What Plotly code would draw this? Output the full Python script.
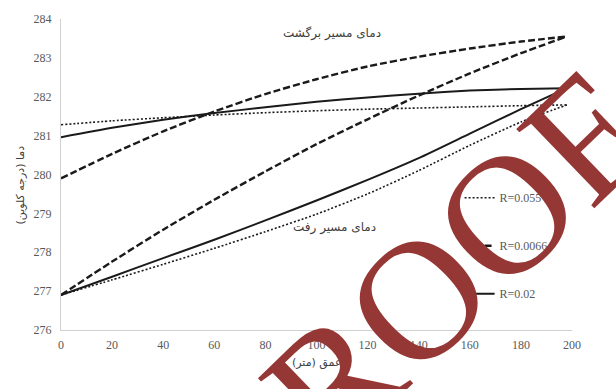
import plotly.graph_objects as go

# depth (m)
depth = [0, 20, 40, 60, 80, 100, 120, 140, 160, 180, 198]

# series names
names = ["R=0.055", "R=0.0066", "R=0.02"]

# temperatures (K) along the descending path (رفت) and the return path (برگشت)
down_r1 = [276.9, 277.29, 277.69, 278.1, 278.53, 278.98, 279.5, 280.1, 280.75, 281.35, 281.79]
ret_r1 = [281.28, 281.38, 281.46, 281.53, 281.59, 281.64, 281.68, 281.71, 281.74, 281.77, 281.79]

down_r2 = [276.9, 277.76, 278.58, 279.35, 280.08, 280.78, 281.42, 282.03, 282.6, 283.12, 283.55]
ret_r2 = [279.9, 280.53, 281.11, 281.62, 282.07, 282.45, 282.78, 283.03, 283.24, 283.42, 283.55]

down_r3 = [276.9, 277.37, 277.85, 278.32, 278.82, 279.33, 279.86, 280.42, 281.05, 281.68, 282.22]
ret_r3 = [280.96, 281.2, 281.41, 281.58, 281.73, 281.87, 281.98, 282.08, 282.16, 282.2, 282.22]

x_ticks = [0, 20, 40, 60, 80, 100, 120, 140, 160, 180, 200]
y_ticks = [276, 277, 278, 279, 280, 281, 282, 283, 284]

styles = [
    dict(color="#1a1a1a", width=1.6, dash="2px,2px"),
    dict(color="#1a1a1a", width=2.4, dash="7px,3px"),
    dict(color="#1a1a1a", width=2.0, dash="solid"),
]

fig = go.Figure()
for name, st, dn, rt in zip(names, styles, [down_r1, down_r2, down_r3], [ret_r1, ret_r2, ret_r3]):
    fig.add_trace(go.Scatter(x=depth, y=dn, mode="lines", name=name, legendgroup=name,
                             line=dict(shape="spline", smoothing=0.6, **st), showlegend=True))
    fig.add_trace(go.Scatter(x=depth, y=rt, mode="lines", name=name, legendgroup=name,
                             line=dict(shape="spline", smoothing=0.6, **st), showlegend=False))

tickfont = dict(family="Liberation Serif", size=12, color="#595959")
arabic = "DejaVu Sans"

fig.update_layout(
    width=616, height=389,
    margin=dict(l=61, r=44, t=12, b=59),
    paper_bgcolor="white", plot_bgcolor="white",
    showlegend=True,
    legend=dict(x=0.78, y=0.472, xanchor="left", yanchor="top",
                font=dict(family="Liberation Serif", size=12, color="#595959"),
                bgcolor="rgba(0,0,0,0)", tracegroupgap=29, traceorder="grouped"),
    xaxis=dict(range=[0, 200], tickvals=x_ticks, showgrid=False, zeroline=False,
               showline=True, linecolor="#d0d0d0", linewidth=1, ticks="",
               tickfont=tickfont, ticklabelstandoff=4),
    yaxis=dict(range=[276, 284], tickvals=y_ticks, showgrid=False, zeroline=False,
               showline=True, linecolor="#d0d0d0", linewidth=1, ticks="",
               tickfont=tickfont, ticklabelstandoff=6),
    annotations=[
        dict(text="دما (درجه کلوین)", xref="paper", yref="paper", x=-0.08, y=0.465,
             xanchor="center", yanchor="middle", textangle=-90, showarrow=False,
             font=dict(family=arabic, size=11, color="#404040")),
        dict(text="عمق (متر)", xref="paper", yref="paper", x=0.5, y=-0.107,
             xanchor="center", yanchor="middle", showarrow=False,
             font=dict(family=arabic, size=11, color="#404040")),
        dict(text="دمای مسیر برگشت", x=106, y=283.62, xanchor="center", yanchor="middle",
             showarrow=False, font=dict(family=arabic, size=12, color="#404040")),
        dict(text="دمای مسیر رفت", x=107, y=278.63, xanchor="center", yanchor="middle",
             showarrow=False, font=dict(family=arabic, size=12, color="#404040")),
        dict(text="PROOF", xref="paper", yref="paper", x=0.705, y=0.11,
             xanchor="center", yanchor="middle", textangle=-44, showarrow=False,
             font=dict(family="Liberation Serif", size=170, color="#953735")),
    ],
)

fig.write_html("out.html")
